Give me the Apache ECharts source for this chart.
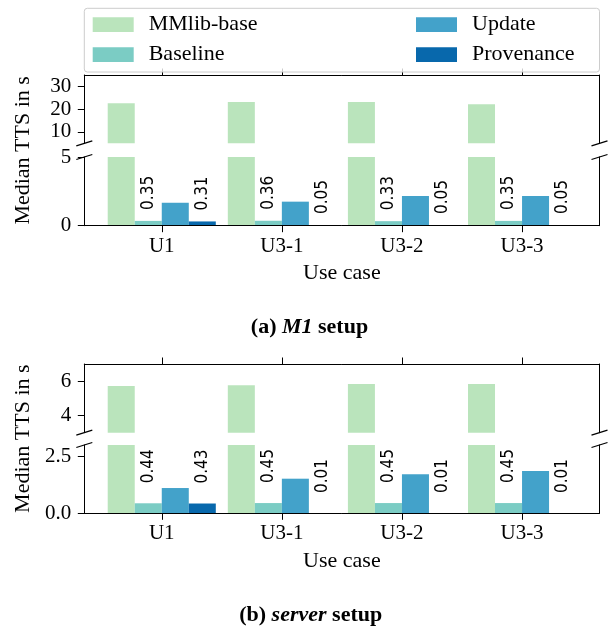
<!DOCTYPE html>
<html>
<head>
<meta charset="utf-8">
<script src="https://cdn.jsdelivr.net/npm/echarts@6/dist/echarts.min.js"></script>
<style>
html,body{margin:0;padding:0;background:#fff;}
#chart{width:608px;height:630px;}
</style>
</head>
<body>
<div id="chart"></div>
<script>
// ---- data ----
const categories = ['U1', 'U3-1', 'U3-2', 'U3-3'];
const seriesNames = ['MMlib-base', 'Baseline', 'Update', 'Provenance'];

// (a) M1 setup
const m1MMlib = [22.6, 23.1, 23.1, 22.2];
const m1Baseline = [0.35, 0.36, 0.33, 0.35];
const m1Update = [1.67, 1.75, 2.16, 2.16];
const m1Provenance = [0.31, 0.05, 0.05, 0.05];

// (b) server setup
const srvMMlib = [5.72, 5.77, 5.83, 5.83];
const srvBaseline = [0.44, 0.45, 0.45, 0.45];
const srvUpdate = [1.11, 1.52, 1.72, 1.86];
const srvProvenance = [0.43, 0.01, 0.01, 0.01];

// tick labels per panel
const m1TopTicks = [10, 20, 30];
const m1BottomTicks = [0, 5];
const srvTopTicks = [4, 6];
const srvBottomTicks = [0, 2.5];

// ---- styling ----
const colors = ['#bae4bc', '#7bccc4', '#43a2ca', '#0868ac'];
const SERIF = 'Liberation Serif';
const SANS = 'DejaVu Sans Condensed, DejaVu Sans';
const frameLeft = 84.3, frameWidth = 515.2;
const catStep = frameWidth / 4.29;
const plotLeft = frameLeft + 0.145 * catStep;
const plotWidth = 4 * catStep;
const barW = 0.225 * catStep;
const axisColor = '#000';

const panels = [
  {top: 75, height: 68.3, min: 5, max: 35, ticks: m1TopTicks, isTop: true,
   data: [m1MMlib, m1Baseline, m1Update, m1Provenance], dec: 0, labelDist: 11},
  {top: 157, height: 68.7, min: 0, max: 5, ticks: m1BottomTicks, isTop: false,
   data: [m1MMlib, m1Baseline, m1Update, m1Provenance], dec: 0, labelDist: 11},
  {top: 364, height: 68.7, min: 3, max: 7, ticks: srvTopTicks, isTop: true,
   data: [srvMMlib, srvBaseline, srvUpdate, srvProvenance], dec: 0, labelDist: 20},
  {top: 445, height: 68.3, min: 0, max: 3, ticks: srvBottomTicks, isTop: false,
   data: [srvMMlib, srvBaseline, srvUpdate, srvProvenance], dec: 1, labelDist: 20}
];

const grids = [], xAxes = [], yAxes = [], series = [];

panels.forEach(function (p) {
  // frame grid
  const fg = grids.length;
  grids.push({left: frameLeft, top: p.top, width: frameWidth, height: p.height, containLabel: false});
  xAxes.push({
    gridIndex: fg, type: 'value', min: 0, max: 1, position: p.isTop ? 'top' : 'bottom', z: 5,
    axisLine: {show: true, onZero: false, lineStyle: {color: axisColor, width: 1}},
    axisTick: {show: false}, axisLabel: {show: false}, splitLine: {show: false}
  });
  yAxes.push({
    gridIndex: fg, type: 'value', min: p.min, max: p.max, position: 'left', z: 5,
    axisLine: {show: true, onZero: false, lineStyle: {color: axisColor, width: 1}},
    axisTick: {show: true, length: 6.5, customValues: p.ticks, lineStyle: {color: axisColor, width: 1}},
    axisLabel: {show: true, customValues: p.ticks, margin: 13, color: '#000',
      fontFamily: SERIF, fontSize: 21,
      formatter: (function (d) { return function (v) { return Number(v).toFixed(d); }; })(p.dec)},
    splitLine: {show: false}
  });
  yAxes.push({
    gridIndex: fg, type: 'value', min: p.min, max: p.max, position: 'right', z: 5,
    axisLine: {show: true, onZero: false, lineStyle: {color: axisColor, width: 1}},
    axisTick: {show: false}, axisLabel: {show: false}, splitLine: {show: false}
  });

  // plot grid (category bands)
  const pg = grids.length;
  grids.push({left: plotLeft, top: p.top, width: plotWidth, height: p.height, containLabel: false});
  const xi = xAxes.length;
  xAxes.push({
    gridIndex: pg, type: 'category', data: categories, position: p.isTop ? 'top' : 'bottom', z: 5,
    axisLine: {show: false},
    axisTick: {show: true, alignWithLabel: true, length: 6.5, lineStyle: {color: axisColor, width: 1}},
    axisLabel: {show: !p.isTop, margin: 10, color: '#000', fontFamily: SERIF, fontSize: 21},
    name: p.isTop ? '' : 'Use case', nameLocation: 'middle', nameGap: 37,
    nameTextStyle: {color: '#000', fontFamily: SERIF, fontSize: 22},
    splitLine: {show: false}
  });
  const yi = yAxes.length;
  yAxes.push({gridIndex: pg, type: 'value', min: p.min, max: p.max, show: false, splitLine: {show: false}});

  seriesNames.forEach(function (name, si) {
    const labeled = !p.isTop && (si === 1 || si === 3);
    series.push({
      type: 'bar', name: name, xAxisIndex: xi, yAxisIndex: yi,
      data: p.data[si], barWidth: barW, barGap: '0%', clip: true,
      itemStyle: {color: colors[si]},
      label: {
        show: labeled, position: 'top', distance: p.labelDist, rotate: 90,
        align: 'left', verticalAlign: 'middle',
        color: '#000', fontFamily: SANS, fontSize: 17,
        formatter: function (prm) { return Number(prm.value).toFixed(2); }
      },
      animation: false
    });
  });
});

// y-axis name grids spanning both panels of each subfigure
[[75, 150.7], [364, 149.3]].forEach(function (g) {
  const gi = grids.length;
  grids.push({left: frameLeft, top: g[0], width: frameWidth, height: g[1], containLabel: false});
  xAxes.push({gridIndex: gi, type: 'value', show: false});
  yAxes.push({
    gridIndex: gi, type: 'value', min: 0, max: 1, position: 'left',
    axisLine: {show: false}, axisTick: {show: false}, axisLabel: {show: false}, splitLine: {show: false},
    name: 'Median TTS in s', nameLocation: 'middle', nameGap: 50,
    nameTextStyle: {color: '#000', fontFamily: SERIF, fontSize: 22}
  });
});

// break marks
const breakY = [143.3, 157, 432.7, 445];
const graphics = [];
breakY.forEach(function (y) {
  [frameLeft, frameLeft + frameWidth].forEach(function (x) {
    graphics.push({type: 'line', z: 10, silent: true,
      shape: {x1: x - 8, y1: y + 2.5, x2: x + 8, y2: y - 2.5},
      style: {stroke: '#000', lineWidth: 1.3}});
  });
});
// legend frame
graphics.push({type: 'rect', z: 50, silent: true,
  shape: {x: frameLeft, y: 8.3, width: frameWidth, height: 63.7, r: 3},
  style: {fill: 'rgba(255,255,255,0.8)', stroke: '#cccccc', lineWidth: 1}});
// captions
const capRich = {
  b: {fontFamily: SERIF, fontSize: 22, fontWeight: 'bold', fill: '#000'},
  bi: {fontFamily: SERIF, fontSize: 22, fontWeight: 'bold', fontStyle: 'italic', fill: '#000'}
};
graphics.push({type: 'text', z: 10, x: 309.5, y: 327, silent: true,
  style: {text: '{b|(a) }{bi|M1}{b| setup}', align: 'center', verticalAlign: 'middle', rich: capRich}});
graphics.push({type: 'text', z: 10, x: 310.7, y: 615, silent: true,
  style: {text: '{b|(b) }{bi|server}{b| setup}', align: 'center', verticalAlign: 'middle', rich: capRich}});

const legendCommon = {
  orient: 'vertical', top: 13.7, padding: 0, z: 60,
  itemWidth: 41, itemHeight: 14.7, itemGap: 8, icon: 'rect',
  selectedMode: false,
  textStyle: {fontFamily: SERIF, fontSize: 22, color: '#000', lineHeight: 22, padding: [0, 0, 0, 10]}
};

const option = {
  animation: false,
  backgroundColor: '#fff',
  grid: grids,
  xAxis: xAxes,
  yAxis: yAxes,
  legend: [
    Object.assign({}, legendCommon, {left: 92.7, data: ['MMlib-base', 'Baseline']}),
    Object.assign({}, legendCommon, {left: 416, data: ['Update', 'Provenance']})
  ],
  graphic: graphics,
  series: series
};

const chart = echarts.init(document.getElementById('chart'), null, {renderer: 'canvas'});
chart.setOption(option);
</script>
</body>
</html>
